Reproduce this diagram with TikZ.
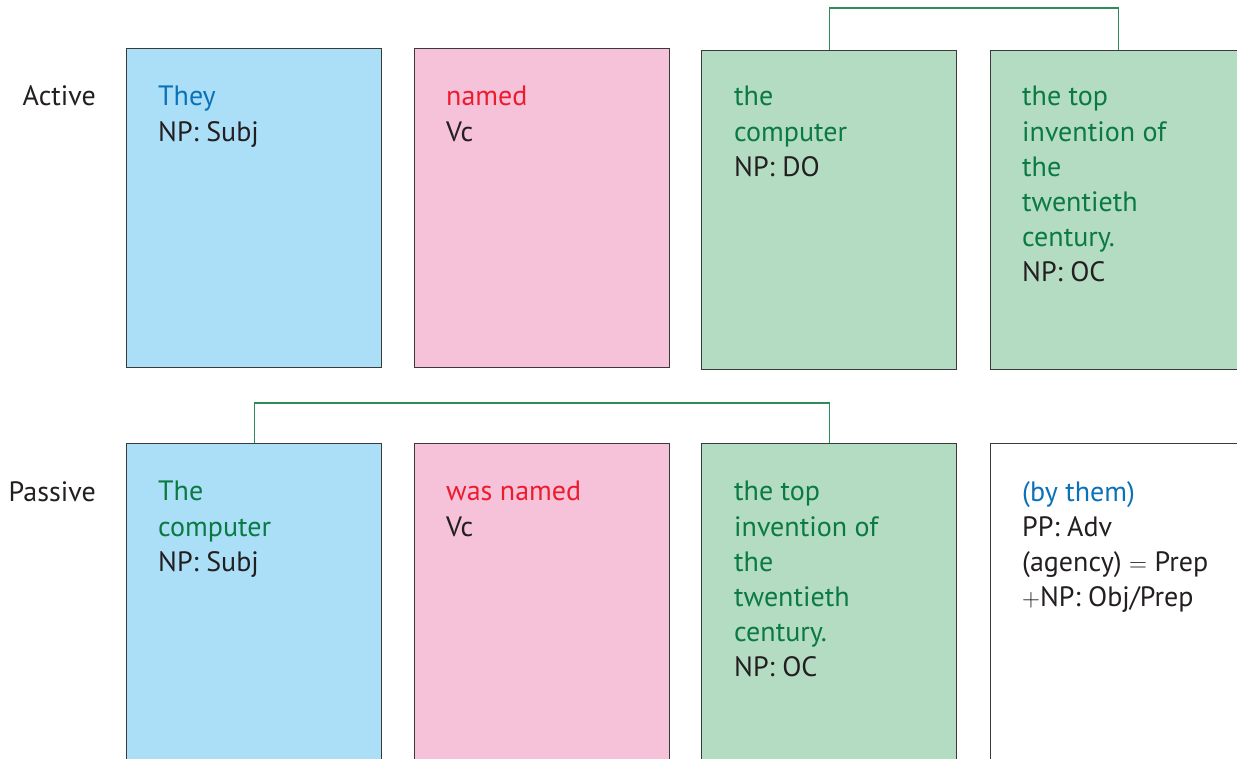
\documentclass[tikz,border=0pt]{standalone}
\usepackage{fontspec}
\setmainfont{PT Sans}
\definecolor{boxline}{HTML}{3A3A3A}
\definecolor{subjfill}{HTML}{ABDFF8}
\definecolor{verbfill}{HTML}{F5C2DA}
\definecolor{objfill}{HTML}{B4DCC2}
\definecolor{inkblue}{HTML}{0B72B9}
\definecolor{inkred}{HTML}{EC1C2E}
\definecolor{inkgreen}{HTML}{0A7A42}
\definecolor{inkdark}{HTML}{231F20}
\definecolor{linkgreen}{HTML}{2E8B5A}
\tikzset{
  slot/.style={draw=boxline, line width=1.4pt, inner sep=0pt, anchor=north west,
               minimum width=255pt},
  toprow/.style={slot, minimum height=319pt},
  botrow/.style={slot, minimum height=340pt},
  words/.style={anchor=north west, inner sep=0pt, align=left, text=inkdark,
                font=\fontsize{28}{35.2}\selectfont},
  rowlabel/.style={anchor=base east, inner sep=0pt, text=inkdark,
                   font=\fontsize{28}{35.2}\selectfont},
  link/.style={draw=linkgreen, line width=1.1pt}
}
\begin{document}
\begin{tikzpicture}[x=1pt,y=-1pt]
\useasboundingbox (0,0) rectangle (1237,758);
\clip (0,0) rectangle (1237,758);

% Active sentence
\node[rowlabel] (active) at (96,105) {Active};
\node[toprow, fill=subjfill] (a1) at (126,48) {};
\node[toprow, fill=verbfill] (a2) at (414,48) {};
\node[toprow, fill=objfill] (a3) at (701,50) {};
\node[toprow, fill=objfill] (a4) at (990,50) {};

\node[words] (ta1) at (158,86) {\textcolor{inkblue}{They}\\NP: Subj};
\node[words] (ta2) at (446,86) {\textcolor{inkred}{named}\\Vc};
\node[words] (ta3) at (734,86) {\textcolor{inkgreen}{the}\\\textcolor{inkgreen}{computer}\\NP: DO};
\node[words] (ta4) at (1022,86) {\textcolor{inkgreen}{the top}\\\textcolor{inkgreen}{invention of}\\\textcolor{inkgreen}{the}\\\textcolor{inkgreen}{twentieth}\\\textcolor{inkgreen}{century.}\\NP: OC};

\coordinate (topbar) at (0,8);
\draw[link] (a3.north) -- (a3.north |- topbar) -| (a4.north);

% Passive sentence
\node[rowlabel] (passive) at (96,501) {Passive};
\node[botrow, fill=subjfill] (p1) at (126,443) {};
\node[botrow, fill=verbfill] (p2) at (414,443) {};
\node[botrow, fill=objfill] (p3) at (701,443) {};
\node[botrow, fill=white] (p4) at (990,443) {};

\node[words] (tp1) at (158,481) {\textcolor{inkgreen}{The}\\\textcolor{inkgreen}{computer}\\NP: Subj};
\node[words] (tp2) at (446,481) {\textcolor{inkred}{was named}\\Vc};
\node[words] (tp3) at (734,481) {\textcolor{inkgreen}{the top}\\\textcolor{inkgreen}{invention of}\\\textcolor{inkgreen}{the}\\\textcolor{inkgreen}{twentieth}\\\textcolor{inkgreen}{century.}\\NP: OC};
\node[words] (tp4) at (1022,481) {\textcolor{inkblue}{(by them)}\\PP: Adv\\(agency) $=$ Prep\\$+$NP: Obj/Prep};

\coordinate (botbar) at (0,403);
\draw[link] (p1.north) -- (p1.north |- botbar) -| (p3.north);
\end{tikzpicture}
\end{document}
